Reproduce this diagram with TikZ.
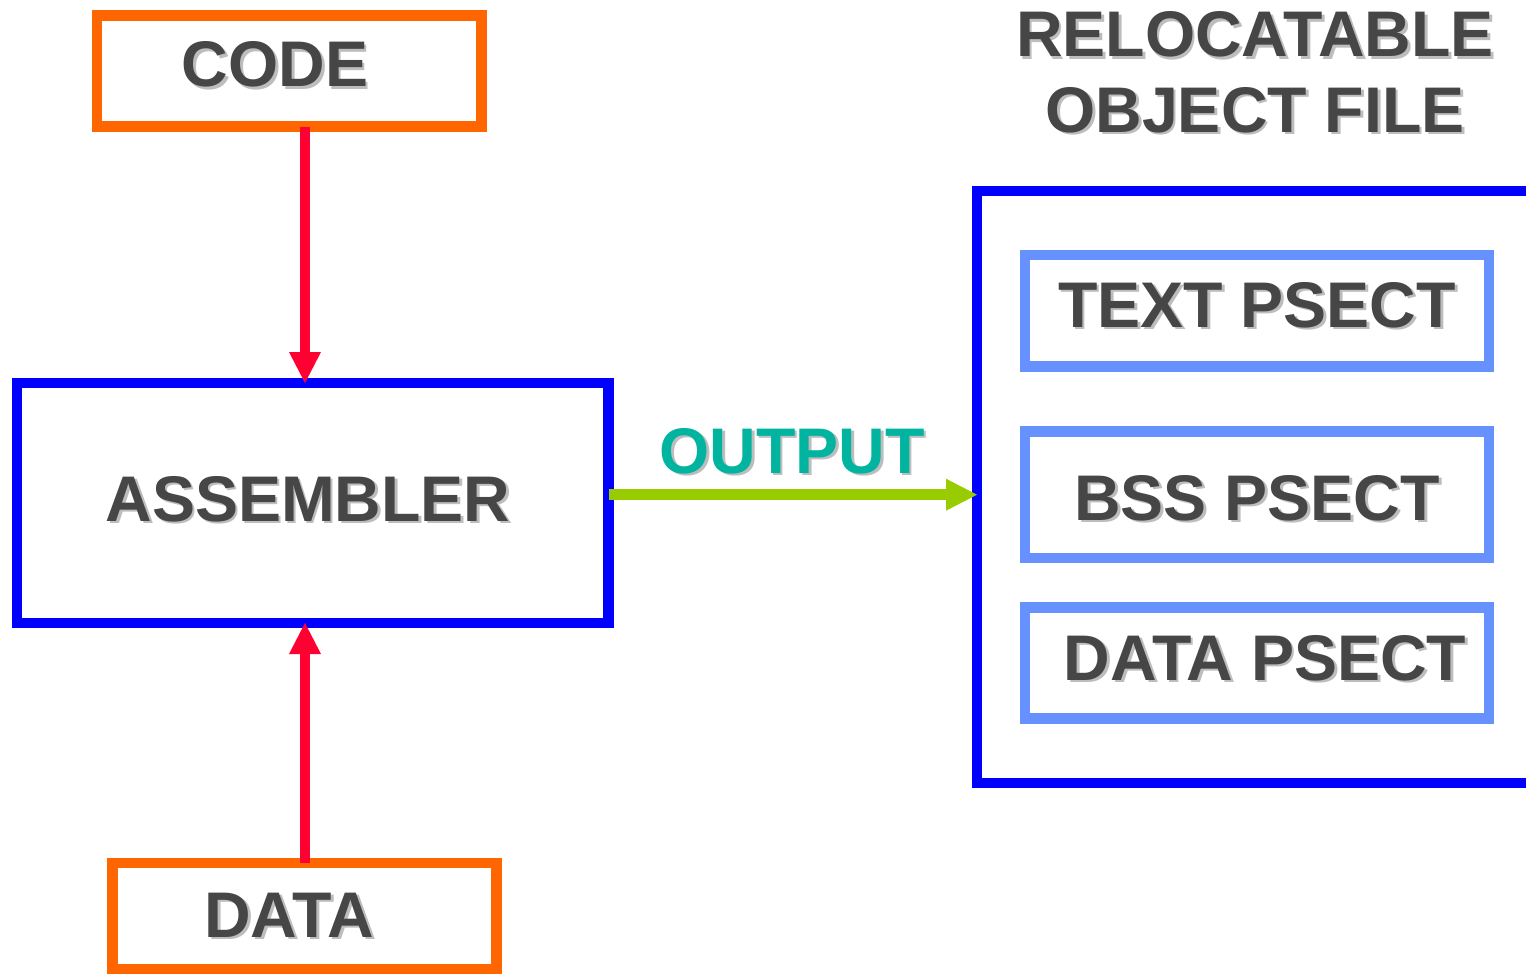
\documentclass[tikz,border=0pt]{standalone}
\usepackage{fontspec}
\setmainfont{Liberation Sans}
\usetikzlibrary{arrows.meta}

\definecolor{srcorange}{HTML}{FF6600}
\definecolor{toolblue}{HTML}{0000FF}
\definecolor{sectblue}{HTML}{6691FF}
\definecolor{feedred}{HTML}{FF0033}
\definecolor{outgreen}{HTML}{99CC00}
\definecolor{outteal}{HTML}{00B4A0}
\definecolor{labelgray}{HTML}{464646}
\definecolor{textshadow}{HTML}{BDBDBD}

% text with a soft drop shadow to the lower right
\newcommand\shadowed[1]{\rlap{\kern2.8pt\raisebox{-2.8pt}{\textcolor{textshadow}{#1}}}#1}

\begin{document}
\begin{tikzpicture}[x=1pt,y=-1pt,
  frame/.style={rectangle, draw, line width=10.5pt, outer sep=0pt, inner sep=0pt},
  srcbox/.style={frame, draw=srcorange},
  toolbox/.style={frame, draw=toolblue},
  sectbox/.style={frame, draw=sectblue},
  lbl/.style={anchor=base, inner sep=0pt, text=labelgray,
              font=\fontsize{64.5}{75}\selectfont\bfseries},
  link/.style={line width=10.5pt,
               -{Triangle[width=32pt,length=31pt,line width=0pt]}},
]
\useasboundingbox (0,0) rectangle (1526,974);
\clip (0,0) rectangle (1526,974);

% inputs and the assembler
\node[srcbox, minimum width=384.5pt, minimum height=111pt] (code) at (289.25,71) {};
\node[toolbox, minimum width=591.7pt, minimum height=240pt] (asm) at (312.85,503) {};
\node[srcbox, minimum width=384pt, minimum height=106pt] (data) at (304.5,916) {};

% relocatable object file and its sections
\node[toolbox, minimum width=583pt, minimum height=592pt] (objfile) at (1268.5,487) {};
\node[sectbox, minimum width=464pt, minimum height=111.7pt] (textps) at (1257,310.85) {};
\node[sectbox, minimum width=464pt, minimum height=126.5pt] (bssps) at (1257,494.75) {};
\node[sectbox, minimum width=464pt, minimum height=110.8pt] (dataps) at (1257,663.1) {};

% labels
\node[lbl] (codelbl) at (275,87) {\shadowed{CODE}};
\node[lbl] (asmlbl) at (308,521) {\shadowed{ASSEMBLER}};
\node[lbl] (datalbl) at (289,937) {\shadowed{DATA}};
\node[lbl] (title1) at (1255,57) {\shadowed{RELOCATABLE}};
\node[lbl] (title2) at (1255,132) {\shadowed{OBJECT FILE}};
\node[lbl] (textlbl) at (1257,327) {\shadowed{TEXT PSECT}};
\node[lbl] (bsslbl) at (1257,520) {\shadowed{BSS PSECT}};
\node[lbl] (datapslbl) at (1265,680) {\shadowed{DATA PSECT}};
\node[lbl, text=outteal] (outlbl) at (792,473) {\shadowed{OUTPUT}};

% connectors
\coordinate (feedcol) at (305,0);
\coordinate (outrow) at (0,494.7);
\draw[link, draw=feedred, fill=feedred] (code.south -| feedcol) -- (asm.north -| feedcol);
\draw[link, draw=feedred, fill=feedred] (data.north -| feedcol) -- (asm.south -| feedcol);
\draw[link, draw=outgreen, fill=outgreen] (asm.east |- outrow) -- (objfile.west |- outrow);
\end{tikzpicture}
\end{document}
